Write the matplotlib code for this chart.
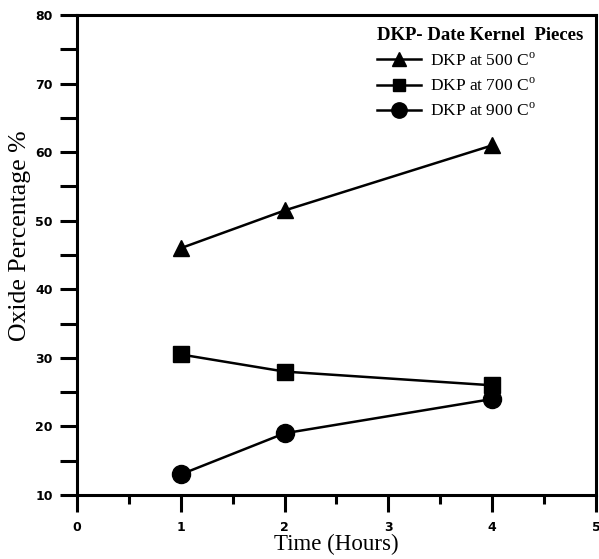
import matplotlib.pyplot as plt
from matplotlib.ticker import MultipleLocator

plt.rcParams['mathtext.fontset'] = 'custom'
plt.rcParams['mathtext.rm'] = 'Liberation Serif'

hours = [1, 2, 4]
dkp_500 = [46, 51.5, 61]
dkp_700 = [30.5, 28, 26]
dkp_900 = [13, 19, 24]

fig = plt.figure(figsize=(5.99, 5.59), dpi=100)
ax = fig.add_axes([0.1285, 0.1145, 0.8665, 0.8585])

ax.plot(hours, dkp_500, color='black', lw=1.8, marker='^', ms=12,
        label='DKP at 500 C$^{\\mathrm{o}}$')
ax.plot(hours, dkp_700, color='black', lw=1.8, marker='s', ms=11,
        label='DKP at 700 C$^{\\mathrm{o}}$')
ax.plot(hours, dkp_900, color='black', lw=1.8, marker='o', ms=13,
        label='DKP at 900 C$^{\\mathrm{o}}$')

ax.set_xlim(0, 5)
ax.set_ylim(10, 80)
ax.xaxis.set_major_locator(MultipleLocator(1))
ax.xaxis.set_minor_locator(MultipleLocator(0.5))
ax.yaxis.set_major_locator(MultipleLocator(10))
ax.yaxis.set_minor_locator(MultipleLocator(5))

for s in ax.spines.values():
    s.set_linewidth(2.2)
ax.tick_params(which='major', direction='out', length=12.5, width=2.2,
               labelsize=9)
ax.tick_params(which='minor', direction='out', length=6.5, width=2.2)
ax.tick_params(axis='y', which='minor', length=12.5)
ax.tick_params(axis='x', pad=6)
ax.tick_params(axis='y', pad=5)
for lab in ax.get_xticklabels() + ax.get_yticklabels():
    lab.set_fontweight('bold')
    lab.set_fontfamily('DejaVu Sans')

ax.set_xlabel('Time (Hours)', fontfamily='Liberation Serif', fontsize=16.5, labelpad=0)
ax.set_ylabel('Oxide Percentage %', fontfamily='Liberation Serif', fontsize=18.5)
ax.yaxis.set_label_coords(-0.088, 0.54)

leg = ax.legend(loc='upper right', frameon=False, handlelength=2.5,
                handletextpad=0.5, markerscale=0.85,
                prop={'family': 'Liberation Serif', 'size': 12.5},
                title='DKP- Date Kernel  Pieces',
                title_fontproperties={'family': 'Liberation Serif', 'size': 13.5,
                                      'weight': 'bold'},
                borderaxespad=0.3, labelspacing=0.45)
leg._legend_box.align = 'left'

fig.savefig('out.png', dpi=100)
